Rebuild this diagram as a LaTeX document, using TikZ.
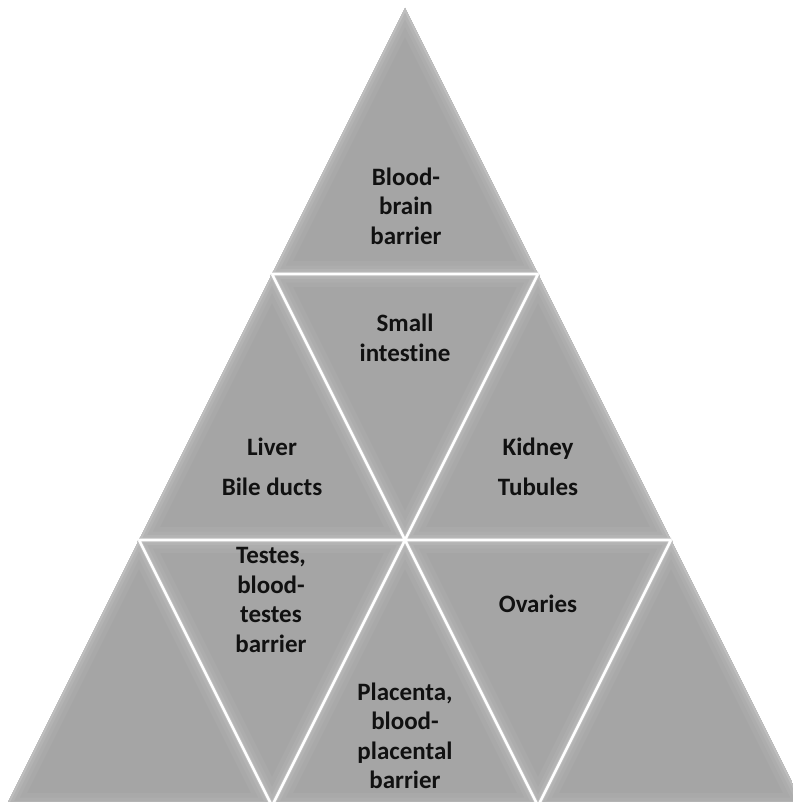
\documentclass[tikz,border=0pt]{standalone}
\usepackage{fontspec}
\setmainfont{Carlito}[Ligatures=NoCommon]
\usetikzlibrary{calc}
\definecolor{face}{HTML}{A5A5A5}
\definecolor{bevA}{HTML}{A9A9A9}
\definecolor{bevB}{HTML}{ADADAD}
\definecolor{bevC}{HTML}{B3B3B3}
\definecolor{bevD}{HTML}{BEBEBE}
\definecolor{txt}{HTML}{111111}
\tikzset{
  lbl/.style={text=txt, font=\fontsize{25}{29.5}\selectfont\bfseries, align=center, inner sep=0pt},
  gap/.style={draw=white, line width=2.6pt, line join=round},
  gapedge/.style={draw=bevD, line width=4.6pt, line join=round}
}
\newcommand\bevtri[3]{%
  \begin{scope}
    \clip (#1)--(#2)--(#3)--cycle;
    \fill[face] (#1)--(#2)--(#3)--cycle;
    \draw[bevA, line width=26pt] (#1)--(#2)--(#3)--cycle;
    \draw[bevB, line width=17pt] (#1)--(#2)--(#3)--cycle;
    \draw[bevC, line width=10pt] (#1)--(#2)--(#3)--cycle;
    \draw[bevD, line width=4pt] (#1)--(#2)--(#3)--cycle;
  \end{scope}}
\begin{document}
\begin{tikzpicture}[x=1pt,y=-1pt]
\useasboundingbox (0,0) rectangle (792,802);
% lattice points
\coordinate (p00) at (405,8);
\coordinate (p10) at (272,274);
\coordinate (p11) at (538,274);
\coordinate (p20) at (139,540);
\coordinate (p21) at (405,540);
\coordinate (p22) at (671,540);
\coordinate (p30) at (6,806);
\coordinate (p31) at (272,806);
\coordinate (p32) at (538,806);
\coordinate (p33) at (804,806);
% triangles
\bevtri{p00}{p10}{p11}
\bevtri{p10}{p20}{p21}
\bevtri{p10}{p11}{p21}
\bevtri{p11}{p21}{p22}
\bevtri{p20}{p30}{p31}
\bevtri{p20}{p21}{p31}
\bevtri{p21}{p31}{p32}
\bevtri{p21}{p22}{p32}
\bevtri{p22}{p32}{p33}
% gaps between the triangles
\path[gapedge] (p10)--(p11) (p20)--(p22) (p11)--(p31) (p22)--(p32) (p10)--(p32) (p20)--(p31);
\path[gap] (p10)--(p11) (p20)--(p22) (p11)--(p31) (p22)--(p32) (p10)--(p32) (p20)--(p31);
% labels
\node[lbl] (bbb) at (406,206) {Blood-\\brain\\barrier};
\node[lbl] (si) at (405,338) {Small\\intestine};
\node[lbl] (liv) at (272,467) {Liver\\[10pt]Bile ducts};
\node[lbl] (kid) at (538,467) {Kidney\\[10pt]Tubules};
\node[lbl] (tes) at (271,600) {Testes,\\blood-\\testes\\barrier};
\node[lbl] (pla) at (405,736) {Placenta,\\blood-\\placental\\barrier};
\node[lbl] (ova) at (538,604) {Ovaries};
\end{tikzpicture}
\end{document}
